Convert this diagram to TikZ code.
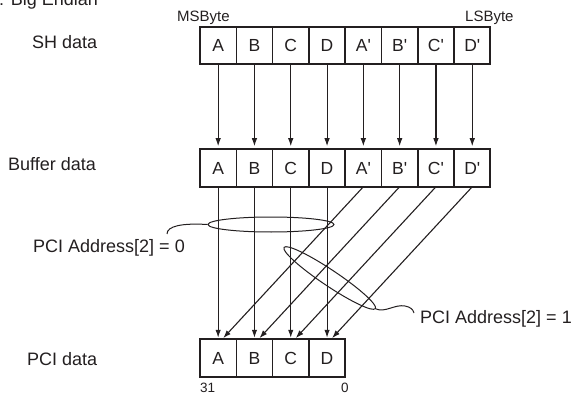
\documentclass[tikz,border=0pt]{standalone}
\usepackage{fontspec}
\setmainfont{Liberation Sans}
\usetikzlibrary{shapes.geometric,arrows.meta,calc}
\definecolor{ink}{RGB}{35,31,32}
\begin{document}
\begin{tikzpicture}[x=1pt,y=1pt,
  cell/.style={draw=ink, line width=1.6pt, minimum width=36.3pt, minimum height=37.5pt, inner sep=0pt, outer sep=0pt, font=\fontsize{17.5}{20}\selectfont, text=ink},
  lbl/.style={anchor=base west, inner sep=0pt, font=\fontsize{18}{21}\selectfont, text=ink},
  smalllbl/.style={anchor=base west, inner sep=0pt, font=\fontsize{15}{17}\selectfont, text=ink},
  tinylbl/.style={anchor=base west, inner sep=0pt, font=\fontsize{13.5}{15}\selectfont, text=ink},
  arr/.style={draw=ink, line width=1.1pt, -{Latex[length=8pt,width=5.5pt]}},
  ring/.style={draw=ink, line width=1pt}]
\useasboundingbox (0,0) rectangle (577,-395);
% cells
\foreach \t [count=\i] in {A,B,C,D,A\textquotesingle,B\textquotesingle,C\textquotesingle,D\textquotesingle} {
  \node[cell] (s\i) at ({200+36.3*(\i-0.5)},-45.5) {\t};
  \node[cell] (b\i) at ({200+36.3*(\i-0.5)},-168) {\t};
}
\foreach \t [count=\i] in {A,B,C,D}
  \node[cell] (p\i) at ({200+36.3*(\i-0.5)},-358) {\t};
\draw[ink, line width=2pt] (s1.north west) rectangle (s8.south east);
\draw[ink, line width=2pt] (b1.north west) rectangle (b8.south east);
\draw[ink, line width=2pt] (p1.north west) rectangle (p4.south east);
% arrows
\foreach \i in {1,...,8} \draw[arr, shorten >=3pt] (s\i.south) -- (b\i.north);
\foreach \i in {1,...,4} \draw[arr, shorten >=1.5pt] (b\i.south) -- (p\i.north);
\foreach \i [evaluate=\i as \j using int(\i+4)] in {1,...,4}
  \draw[arr, shorten >=1.5pt] (b\j.south) -- ($(p\i.north)+(4,0)$);
% ellipses
\node[ring, ellipse, minimum width=126pt, minimum height=15pt, inner sep=0pt] (e1) at (271,-224.5) {};
\node[ring, ellipse, minimum width=110pt, minimum height=16pt, inner sep=0pt, rotate=-33.8] (e2) at (329.7,-278) {};
% leaders
\coordinate (l0) at (167,-234);
\draw[ring] (e1.west) .. controls (182,-223) and (167,-226) .. (l0);
\coordinate (l1) at (414,-313);
\draw[ring] (e2.east) .. controls (385,-313) and (395,-304) .. (405,-306) .. controls (410,-307) and (413,-309) .. (l1);
% labels
\node[lbl] (t0) at (-1,-6) {: Big Endian};
\node[smalllbl] (ms) at (177,-21.7) {MSByte};
\node[smalllbl] (ls) at (465,-22) {LSByte};
\node[lbl] (sh) at (32,-48.5) {SH data};
\node[lbl] (bd) at (8,-171) {Buffer data};
\node[lbl] (pa0) at (33,-252) {PCI Address[2] = 0};
\node[lbl] (pa1) at (420,-323) {PCI Address[2] = 1};
\node[lbl] (pd) at (27,-365) {PCI data};
\node[tinylbl] (n31) at (200,-392.5) {31};
\node[tinylbl] (n0) at (341,-392.5) {0};
\end{tikzpicture}
\end{document}
